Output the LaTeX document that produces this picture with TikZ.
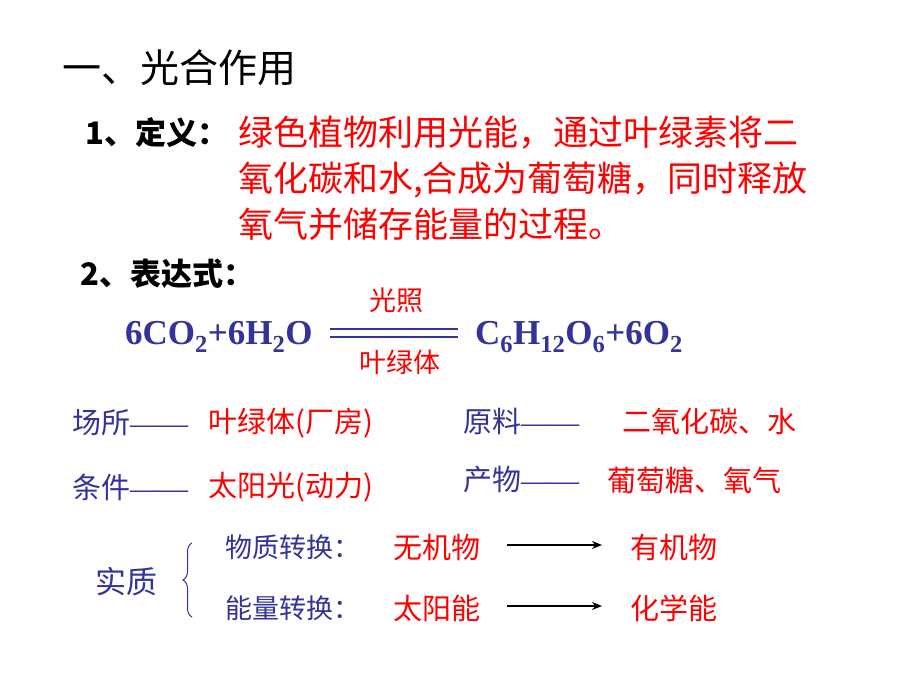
\documentclass[tikz,border=0pt]{standalone}
\usepackage{fontspec}
\setmainfont{Liberation Serif}
\newfontfamily\cjk{Noto Sans CJK SC}
\usetikzlibrary{arrows.meta,decorations.pathreplacing}
\definecolor{nblue}{HTML}{333399}
\definecolor{nred}{HTML}{FF0000}
\newcommand{\fs}[1]{\fontsize{#1}{#1}\selectfont}
\newcommand{\dd}{{\rmfamily\fontsize{29}{29}\selectfont ——}}
\tikzset{
  t/.style={anchor=west,inner sep=0pt},
  blk/.style={t,text=black},
  bl/.style={t,text=nblue,font=\cjk\fs{29}},
  rd/.style={t,text=nred,font=\cjk\fs{29}},
  eq/.style={t,text=nblue,font=\bfseries\fs{35}},
  arr/.style={-{Stealth[length=10pt,width=8pt]},line width=1.6pt,black}
}
\begin{document}
\begin{tikzpicture}[x=1pt,y=-1pt]
\useasboundingbox (0,0) rectangle (920,690);
\fill[white] (0,0) rectangle (920,690);
\node[blk,font=\cjk\fs{39}] (title) at (62,68) {一、光合作用};
\node[blk,font=\cjk\bfseries\fs{31}] (def) at (85,133) {1、定义：};
\node[rd,font=\cjk\fs{35}] (d1) at (238,133) {绿色植物利用光能，通过叶绿素将二};
\node[rd,font=\cjk\fs{35}] (d2) at (238,180) {氧化碳和水,合成为葡萄糖，同时释放};
\node[rd,font=\cjk\fs{35}] (d3) at (238,224) {氧气并储存能量的过程。};
\node[blk,font=\cjk\bfseries\fs{31}] (expr) at (80,274) {2、表达式：};
\node[eq] (lhs) at (125,337) {6CO\textsubscript{2}+6H\textsubscript{2}O};
\node[eq] (rhs) at (475,337) {C\textsubscript{6}H\textsubscript{12}O\textsubscript{6}+6O\textsubscript{2}};
\coordinate (e1) at (330,329); \coordinate (e2) at (458,329);
\coordinate (e3) at (330,337); \coordinate (e4) at (458,337);
\draw[nblue,line width=2.6pt] (e1) -- (e2) (e3) -- (e4);
\node[text=nred,font=\cjk\fs{27},inner sep=0pt] (gz) at (396,300) {光照};
\node[text=nred,font=\cjk\fs{27},inner sep=0pt] (ylt) at (400,362) {叶绿体};
\node[bl] (cs) at (72,423) {场所\dd};
\node[rd] (csv) at (208,423) {叶绿体(厂房)};
\node[bl] (yl) at (463,421) {原料\dd};
\node[rd] (ylv) at (622,421) {二氧化碳、水};
\node[bl] (tj) at (72,487) {条件\dd};
\node[rd] (tjv) at (208,487) {太阳光(动力)};
\node[bl] (cw) at (463,480) {产物\dd};
\node[rd] (cwv) at (607,480) {葡萄糖、氧气};
\node[bl,font=\cjk\fs{31}] (sz) at (95,582) {实质};
\coordinate (b1) at (192,617); \coordinate (b2) at (192,543);
\draw[nblue,line width=1pt,decorate,decoration={brace,amplitude=9pt}] (b1) -- (b2);
\node[bl,font=\cjk\fs{27}] (wz) at (225,547) {物质转换：};
\node[rd] (wjw) at (393,547) {无机物};
\node[rd] (yjw) at (630,547) {有机物};
\coordinate (a1) at (507,545);
\draw[arr] (a1) -- (602,545);
\node[bl,font=\cjk\fs{27}] (nl) at (225,608) {能量转换：};
\node[rd] (tyn) at (393,608) {太阳能};
\node[rd] (hxn) at (630,608) {化学能};
\coordinate (a2) at (507,606);
\draw[arr] (a2) -- (602,606);
\end{tikzpicture}
\end{document}
